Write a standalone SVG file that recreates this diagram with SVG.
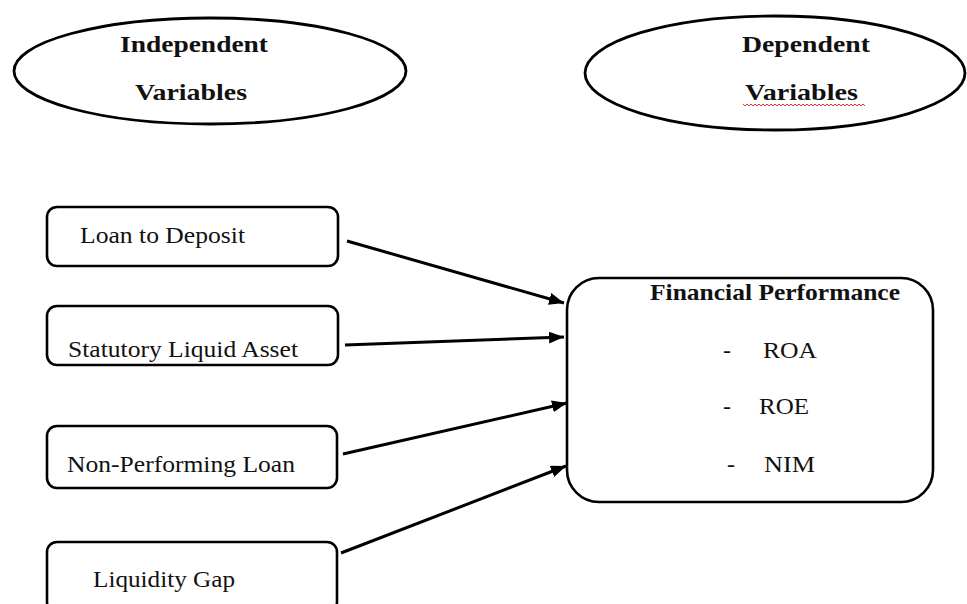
<svg xmlns="http://www.w3.org/2000/svg" width="967" height="604" viewBox="0 0 967 604">
<style>
.shape{fill:#fff;stroke:#000;stroke-width:2.8}
.box{fill:#fff;stroke:#000;stroke-width:2.6}
.t{font-family:"Liberation Serif","Times New Roman",Times,serif;font-size:24px;fill:#111}
.b{font-weight:bold;font-size:24px}
.conn{stroke:#000;stroke-width:3;fill:none;marker-end:url(#ah)}
</style>
<defs>
<marker id="ah" markerUnits="userSpaceOnUse" markerWidth="15" markerHeight="12" refX="15" refY="6" orient="auto">
<path d="M0,0 L15,6 L0,12 z" fill="#000"/>
</marker>
</defs>
<rect width="967" height="604" fill="#fff"/>
<g id="independent">
<ellipse class="shape" cx="210" cy="71" rx="196" ry="53"/>
<text class="t b" x="120" y="52" textLength="148" lengthAdjust="spacingAndGlyphs">Independent</text>
<text class="t b" x="135" y="100" textLength="112" lengthAdjust="spacingAndGlyphs">Variables</text>
</g>
<g id="dependent">
<ellipse class="shape" cx="775" cy="73" rx="190" ry="57"/>
<text class="t b" x="742" y="52" textLength="128" lengthAdjust="spacingAndGlyphs">Dependent</text>
<text class="t b" x="745" y="100" textLength="113" lengthAdjust="spacingAndGlyphs">Variables</text>
<path d="M743,104 l2,2 l2,-2 l2,2 l2,-2 l2,2 l2,-2 l2,2 l2,-2 l2,2 l2,-2 l2,2 l2,-2 l2,2 l2,-2 l2,2 l2,-2 l2,2 l2,-2 l2,2 l2,-2 l2,2 l2,-2 l2,2 l2,-2 l2,2 l2,-2 l2,2 l2,-2 l2,2 l2,-2 l2,2 l2,-2 l2,2 l2,-2 l2,2 l2,-2 l2,2 l2,-2 l2,2 l2,-2 l2,2 l2,-2 l2,2 l2,-2 l2,2 l2,-2 l2,2 l2,-2 l2,2 l2,-2 l2,2 l2,-2 l2,2 l2,-2 l2,2 l2,-2 l2,2 l2,-2 l2,2 l2,-2 l2,2" fill="none" stroke="#e03030" stroke-width="1"/>
</g>
<g id="loan-to-deposit">
<rect class="box" x="47" y="207" width="291" height="59" rx="10"/>
<text class="t" x="80" y="243" textLength="165" lengthAdjust="spacingAndGlyphs">Loan to Deposit</text>
</g>
<g id="statutory-liquid-asset">
<rect class="box" x="47" y="306" width="291" height="59" rx="10"/>
<text class="t" x="68" y="357" textLength="230" lengthAdjust="spacingAndGlyphs">Statutory Liquid Asset</text>
</g>
<g id="non-performing-loan">
<rect class="box" x="47" y="426" width="290" height="62" rx="10"/>
<text class="t" x="67" y="472" textLength="228" lengthAdjust="spacingAndGlyphs">Non-Performing Loan</text>
</g>
<g id="liquidity-gap">
<rect class="box" x="47" y="542" width="290" height="70" rx="10"/>
<text class="t" x="93" y="587" textLength="142" lengthAdjust="spacingAndGlyphs">Liquidity Gap</text>
</g>
<g id="financial-performance">
<rect class="box" x="567" y="278" width="366" height="224" rx="32"/>
<text class="t b" x="650" y="300" textLength="250" lengthAdjust="spacingAndGlyphs">Financial Performance</text>
<text class="t" x="723" y="358">-</text>
<text class="t" x="763" y="358" textLength="54" lengthAdjust="spacingAndGlyphs">ROA</text>
<text class="t" x="723" y="414">-</text>
<text class="t" x="759" y="414" textLength="50" lengthAdjust="spacingAndGlyphs">ROE</text>
<text class="t" x="727" y="472">-</text>
<text class="t" x="764" y="472" textLength="51" lengthAdjust="spacingAndGlyphs">NIM</text>
</g>
<g id="connectors">
<line class="conn" x1="347" y1="241" x2="564" y2="303"/>
<line class="conn" x1="345" y1="345" x2="564" y2="337"/>
<line class="conn" x1="343" y1="454" x2="567" y2="403"/>
<line class="conn" x1="341" y1="553" x2="566" y2="466"/>
</g>
</svg>
